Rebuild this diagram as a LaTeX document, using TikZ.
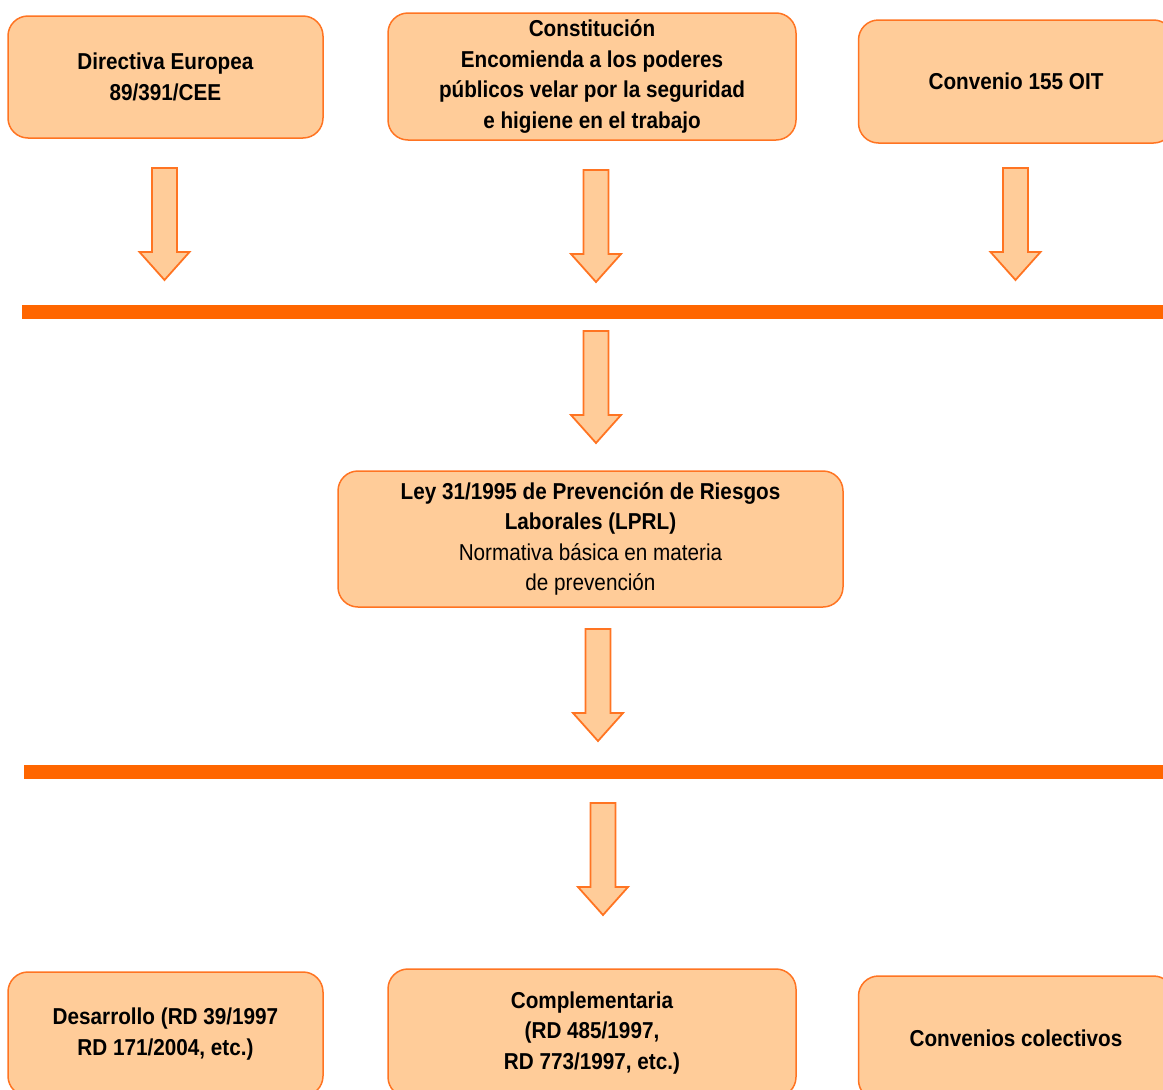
\documentclass[tikz,border=0pt]{standalone}
\usepackage{fontspec}
\setmainfont{Liberation Sans}[FakeStretch=0.9]
\definecolor{boxfill}{HTML}{FFCC99}
\definecolor{boxline}{HTML}{FF7422}
\definecolor{barorange}{HTML}{FF6600}
\tikzset{
  box/.style={draw=boxline, fill=boxfill, line width=1.5pt, rounded corners=20pt,
    inner sep=0pt, align=center, font=\fontsize{23}{30.5}\selectfont},
  bar/.style={fill=barorange, draw=none, inner sep=0pt, minimum height=14pt},
  blockarrow/.style={draw=boxline, fill=boxfill, line width=1.8pt, line join=miter}
}
% downward block arrow hanging from a named coordinate
\newcommand\downarrowat[1]{%
  \draw[blockarrow] (#1) ++(-12.5,0) -- ++(25,0) -- ++(0,84) -- ++(12.5,0)
    -- ++(-25,28) -- ++(-25,-28) -- ++(12.5,0) -- cycle;}
\begin{document}
\begin{tikzpicture}[x=1pt,y=-1pt]
\useasboundingbox (0,0) rectangle (1163,1090);
\clip (0,0) rectangle (1163,1090);

% sources
\node[box, minimum width=315pt, minimum height=122pt] (dir) at (165.5,77)
  {\textbf{Directiva Europea}\\\textbf{89/391/CEE}};
\node[box, minimum width=408pt, minimum height=127pt] (const) at (592,76.5)
  {\textbf{Constitución}\\\textbf{Encomienda a los poderes}\\\textbf{públicos velar por la seguridad}\\\textbf{e higiene en el trabajo}};
\node[box, minimum width=315pt, minimum height=123pt] (oit) at (1016,81.5)
  {\textbf{Convenio 155 OIT}};

% arrows down to the first bar
\coordinate (a1) at (164.5,168);
\coordinate (a2) at (596,170);
\coordinate (a3) at (1015.5,168);
\downarrowat{a1}
\downarrowat{a2}
\downarrowat{a3}

% first bar
\node[bar, minimum width=1160pt, anchor=west] (bar1) at (22,312) {};

\coordinate (a4) at (596,331);
\downarrowat{a4}

% the law
\node[box, minimum width=505pt, minimum height=136pt] (lprl) at (590.5,539)
  {\textbf{Ley 31/1995 de Prevención de Riesgos}\\\textbf{Laborales (LPRL)}\\Normativa básica en materia\\de prevención};

\coordinate (a5) at (598,629);
\downarrowat{a5}

% second bar
\node[bar, minimum width=1160pt, anchor=west] (bar2) at (24,772) {};

\coordinate (a6) at (603,803);
\downarrowat{a6}

% regulations derived from the law
\node[box, minimum width=315pt, minimum height=124pt] (des) at (165.5,1034)
  {\textbf{Desarrollo (RD 39/1997}\\\textbf{RD 171/2004, etc.)}};
\node[box, minimum width=408pt, minimum height=128pt] (comp) at (592,1033)
  {\textbf{Complementaria}\\\textbf{(RD 485/1997,}\\\textbf{RD 773/1997, etc.)}};
\node[box, minimum width=315pt, minimum height=124pt] (conv) at (1016,1038)
  {\textbf{Convenios colectivos}};
\end{tikzpicture}
\end{document}
